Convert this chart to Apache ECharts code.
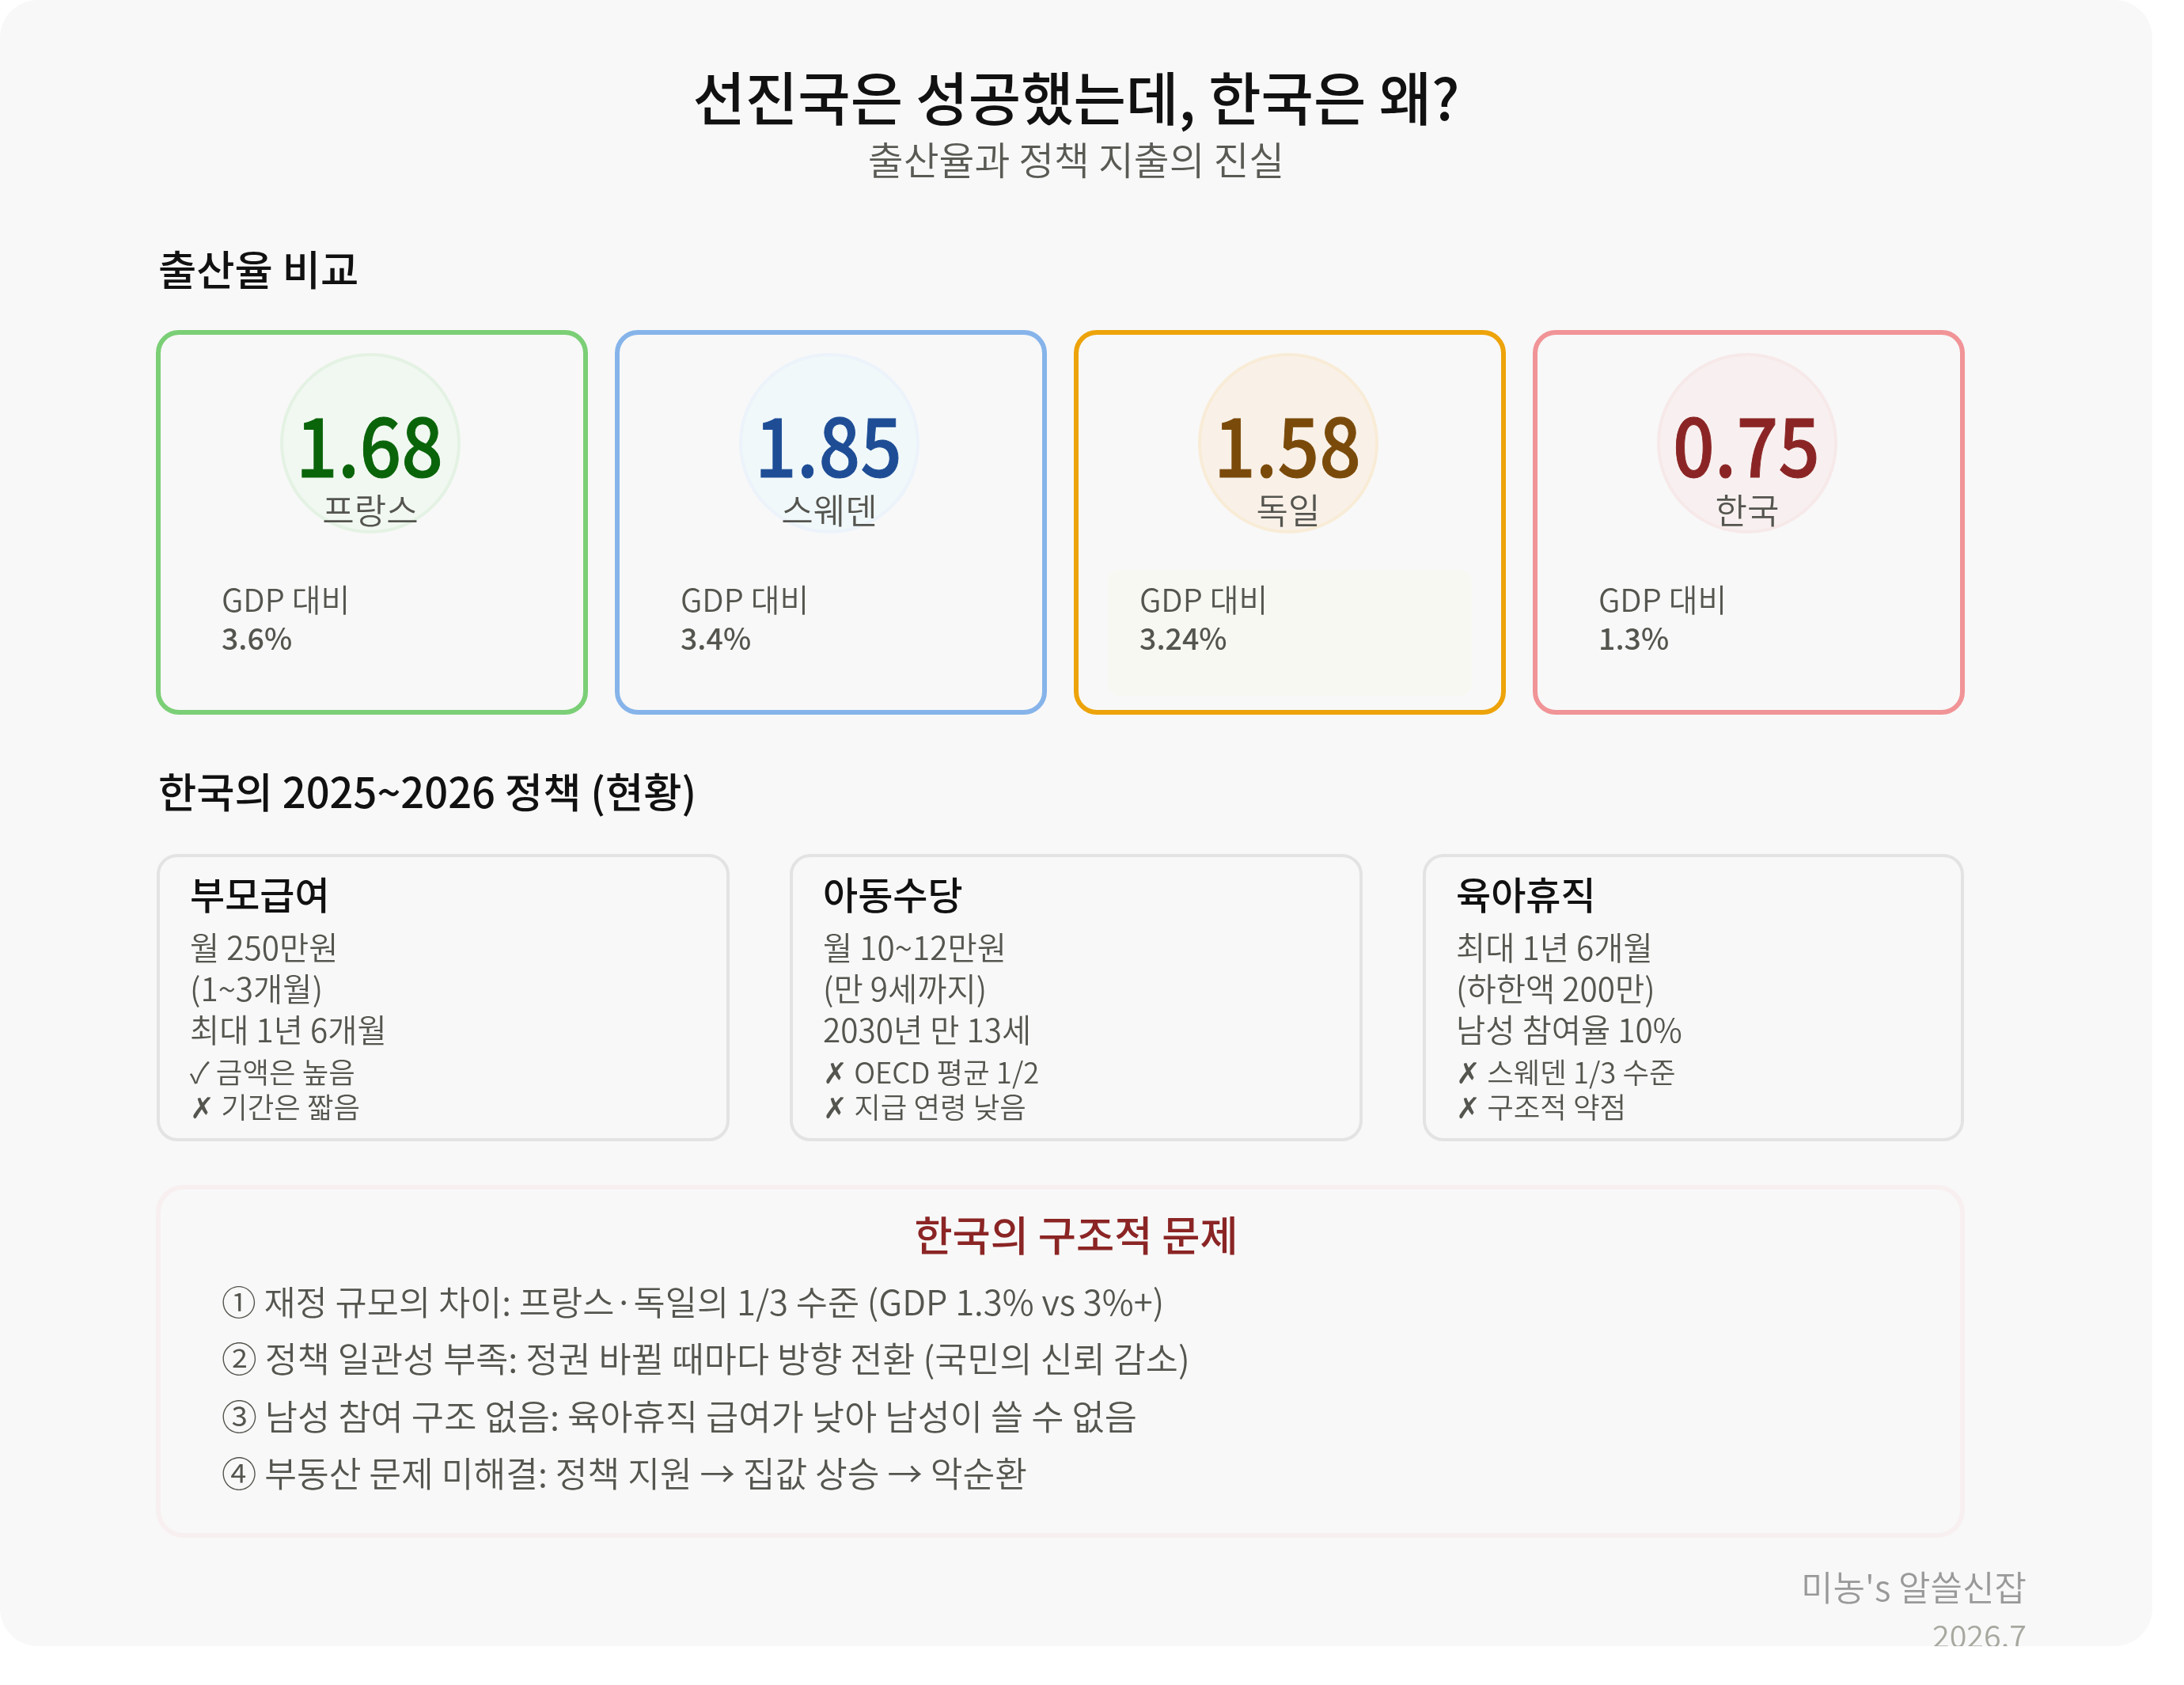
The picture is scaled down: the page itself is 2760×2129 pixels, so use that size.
<!DOCTYPE html>
<html><head><meta charset="utf-8">
<script src="https://cdn.jsdelivr.net/npm/echarts@6/dist/echarts.min.js"></script>
<style>html,body{margin:0;padding:0;background:#fff}#c{width:2720px;height:2080px;overflow:hidden}</style>
</head><body><div id="c"></div>
<script>
// ---------- data ----------
const title = '선진국은 성공했는데, 한국은 왜?';
const subtitle = '출산율과 정책 지출의 진실';
const sectionBirth = '출산율 비교';
const sectionPolicy = '한국의 2025~2026 정책 (현황)';
const countries = ['프랑스', '스웨덴', '독일', '한국'];
const birthRates = [1.68, 1.85, 1.58, 0.75];
const gdpLabel = 'GDP 대비';
const gdpShares = ['3.6%', '3.4%', '3.24%', '1.3%'];
const policyTitles = ['부모급여', '아동수당', '육아휴직'];
const policyFacts = [
  ['월 250만원', '(1~3개월)', '최대 1년 6개월'],
  ['월 10~12만원', '(만 9세까지)', '2030년 만 13세'],
  ['최대 1년 6개월', '(하한액 200만)', '남성 참여율 10%']
];
const policyNotes = [
  ['✓ 금액은 높음', '✗ 기간은 짧음'],
  ['✗ OECD 평균 1/2', '✗ 지급 연령 낮음'],
  ['✗ 스웨덴 1/3 수준', '✗ 구조적 약점']
];
const problemTitle = '한국의 구조적 문제';
const problemLines = [
  '① 재정 규모의 차이: 프랑스·독일의 1/3 수준 (GDP 1.3% vs 3%+)',
  '② 정책 일관성 부족: 정권 바뀔 때마다 방향 전환 (국민의 신뢰 감소)',
  '③ 남성 참여 구조 없음: 육아휴직 급여가 낮아 남성이 쓸 수 없음',
  '④ 부동산 문제 미해결: 정책 지원 → 집값 상승 → 악순환'
];
const footerName = "미농's 알쓸신잡";
const footerDate = '2026.7';

// ---------- style ----------
const FONT = '"Noto Sans CJK KR","Noto Sans",sans-serif';
const cardStroke = ['#7bcf76', '#86b4ea', '#eda30a', '#f19497'];
const valueColor = ['#0a640a', '#1e4d96', '#7a4a0a', '#8b2525'];
const circleFill = ['#f1f8f1', '#f0f8fa', '#f9f1e8', '#f8f0f0'];
const circleLine = ['#e4f2e4', '#ecf3fa', '#f9ecd7', '#f7e9e9'];
const BODY = '#55554f';
const LIGHT = 350;
const K = 0.36; // baseline-to-middle ratio

function txt(s, x, base, size, fill, weight, align) {
  return { type: 'text', x: x, y: base - K * size, silent: true,
    style: { text: s, fontFamily: FONT, fontSize: size, fontWeight: weight || LIGHT, fill: fill,
      textAlign: align || 'left', textVerticalAlign: 'middle' } };
}
function box(x, y, w, h, r, stroke, lw, fill) {
  return { type: 'rect', silent: true, shape: { x, y, width: w, height: h, r },
    style: { fill: fill || 'none', stroke: stroke || 'none', lineWidth: lw || 0 } };
}

const g = [];
g.push(box(0, 0, 2720, 2080, 48, null, 0, '#f8f8f8'));
g.push(txt(title, 1360, 151, 72.2, '#111111', 500, 'center'));
g.push(txt(subtitle, 1360, 220, 48.8, '#5a5a55', LIGHT, 'center'));
g.push(txt(sectionBirth, 200, 360, 52.5, '#111111', 500));
g.push(txt(sectionPolicy, 200, 1020, 52.5, '#111111', 500));

const cardX = [200, 780, 1360, 1940];
cardX.forEach((x, i) => {
  g.push(box(x, 420, 540, 480, 26, cardStroke[i], 6));
});
g.push(box(1400, 720, 460, 160, 16, null, 0, '#f8f8f3'));
cardX.forEach((x, i) => {
  g.push(txt(gdpLabel, x + 80, 772, 40, BODY, LIGHT));
  g.push(txt(gdpShares[i], x + 80, 820, 37.5, BODY, 500));
});

const polX = [200, 1000, 1800], polW = [720, 720, 680];
polX.forEach((x, i) => {
  g.push(box(x, 1081, polW[i], 359, 24, '#e3e3e3', 4));
  g.push(txt(policyTitles[i], x + 40, 1148, 48, '#111111', 500));
  policyFacts[i].forEach((s, j) => g.push(txt(s, x + 40, [1212, 1264, 1316][j], 40.5, BODY, LIGHT)));
  policyNotes[i].forEach((s, j) => g.push(txt(s, x + 40, [1368, 1412][j], 36.5, BODY, LIGHT)));
});

g.push(box(200, 1500, 2280, 440, 32, '#f8eff0', 6));
g.push(txt(problemTitle, 1360, 1580, 52.4, '#8b2525', 500, 'center'));
const problemSizes = [43.7, 44.7, 44.85, 44.3];
problemLines.forEach((s, j) => g.push(txt(s, 280, [1661, 1733, 1806, 1878][j], problemSizes[j], BODY, LIGHT)));
g.push(txt(footerName, 2561, 2022, 44, '#999999', LIGHT, 'right'));
g.push(txt(footerDate, 2561, 2081, 39.5, '#a8a8a0', LIGHT, 'right'));

const chart = echarts.init(document.getElementById('c'), null, { renderer: 'canvas', devicePixelRatio: 1 });
chart.setOption({
  animation: false,
  backgroundColor: 'transparent',
  graphic: { elements: g },
  grid: { left: 178, top: 448, width: 2320, height: 224, containLabel: false },
  xAxis: { type: 'category', data: countries, show: false },
  yAxis: { type: 'value', min: 0, max: 1, show: false },
  series: [{
    type: 'custom', silent: true, clip: false, z: 2,
    encode: { x: 0, y: 1 },
    data: countries.map((c, i) => [c, 0.5, birthRates[i]]),
    renderItem: function (params, api) {
      const i = params.dataIndex;
      const p = api.coord([api.value(0), api.value(1)]);
      return { type: 'group', children: [
        { type: 'circle', shape: { cx: p[0], cy: p[1], r: 112 },
          style: { fill: circleFill[i], stroke: circleLine[i], lineWidth: 4 } },
        { type: 'text', x: p[0] - 1, y: p[1] + 41 - K * 104, scaleX: 0.89,
          style: { text: api.value(2).toFixed(2), fontFamily: FONT, fontSize: 104, fontWeight: 500,
            fill: valueColor[i], stroke: valueColor[i], lineWidth: 1,
            textAlign: 'center', textVerticalAlign: 'middle' } },
        { type: 'text', x: p[0], y: p[1] + 101 - K * 44,
          style: { text: countries[i], fontFamily: FONT, fontSize: 44, fontWeight: LIGHT,
            fill: BODY, textAlign: 'center', textVerticalAlign: 'middle' } }
      ] };
    }
  }]
});
</script></body></html>
